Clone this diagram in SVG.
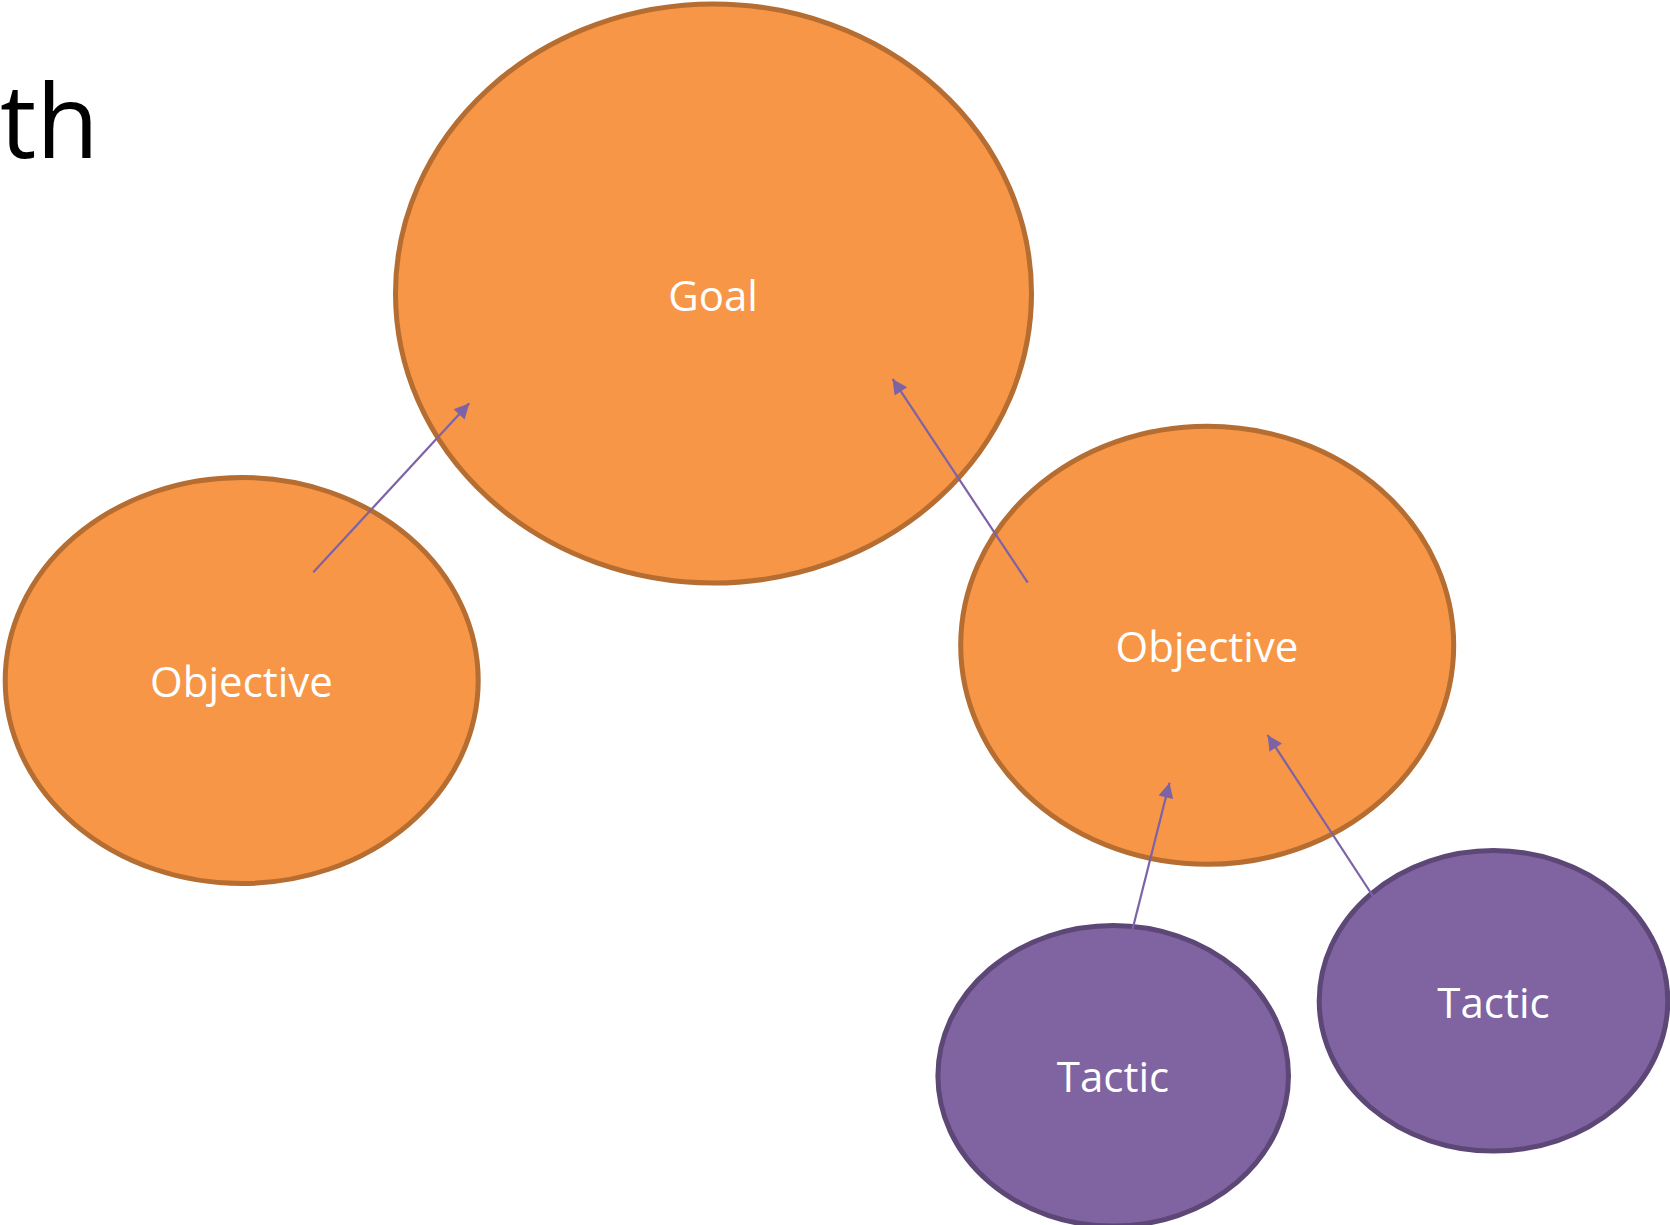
<svg xmlns="http://www.w3.org/2000/svg" width="1670" height="1225" viewBox="0 0 1670 1225">
<style>
.org{fill:#F79646;stroke:#B66D31;stroke-width:5}
.pur{fill:#8064A2;stroke:#5C4776;stroke-width:5}
.lbl{font-family:"Open Sans","Liberation Sans",sans-serif;font-size:42px;fill:#FFFFFF;text-anchor:middle}
.conn{stroke:#7D62A6;stroke-width:2.2;fill:none;marker-end:url(#ah)}
</style>
<defs>
<marker id="ah" viewBox="0 0 10 10" refX="10" refY="5" markerWidth="18" markerHeight="15" markerUnits="userSpaceOnUse" orient="auto">
<path d="M0,0 L10,5 L0,10 Z" fill="#7D62A6"/>
</marker>
</defs>
<rect width="1670" height="1225" fill="#FFFFFF"/>
<text x="0" y="158" font-family="'Open Sans','Liberation Sans',sans-serif" font-size="102" fill="#000000">th</text>
<g id="goal">
<ellipse class="org" cx="713.5" cy="293.5" rx="318" ry="289.5"/>
<text class="lbl" x="713" y="311">Goal</text>
</g>
<g id="objective-left">
<ellipse class="org" cx="241.7" cy="680.5" rx="236.5" ry="203"/>
<text class="lbl" x="241.5" y="696.7">Objective</text>
</g>
<g id="objective-right">
<ellipse class="org" cx="1207.2" cy="645.3" rx="246.5" ry="219"/>
<text class="lbl" x="1207" y="662.3">Objective</text>
</g>
<g id="tactic-1">
<ellipse class="pur" cx="1113.2" cy="1075.8" rx="175.3" ry="150.3"/>
<text class="lbl" x="1113" y="1092.3">Tactic</text>
</g>
<g id="tactic-2">
<ellipse class="pur" cx="1493.5" cy="1000.8" rx="174.3" ry="150.3"/>
<text class="lbl" x="1493.5" y="1017.7">Tactic</text>
</g>
<g id="connectors">
<line class="conn" x1="313.3" y1="572.3" x2="469.3" y2="403.3"/>
<line class="conn" x1="1027.7" y1="582.7" x2="892.6" y2="378.9"/>
<line class="conn" x1="1124.8" y1="960" x2="1169.5" y2="782.7"/>
<line class="conn" x1="1401" y1="939" x2="1267.6" y2="735"/>
</g>
</svg>
